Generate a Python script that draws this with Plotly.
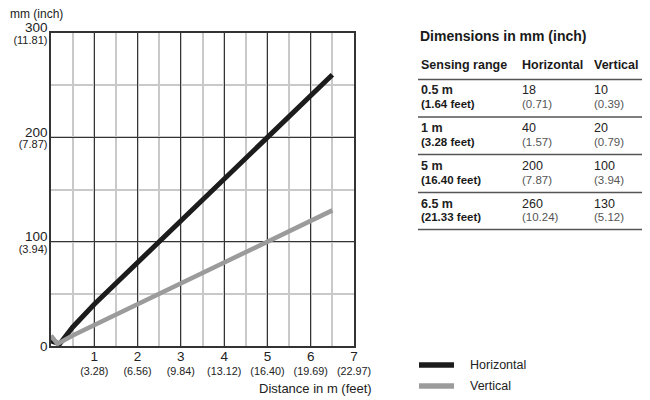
import plotly.graph_objects as go

# ---- data ----
dist_h_m = [0, 0.2, 0.5, 1, 5, 6.5]
horizontal_mm = [5, 2, 18, 40, 200, 260]
dist_v_m = [0, 0.15, 0.5, 1, 5, 6.5]
vertical_mm = [10, 2, 10, 20, 100, 130]

x_tick_vals = [1, 2, 3, 4, 5, 6, 7]
x_tick_feet = ["(3.28)", "(6.56)", "(9.84)", "(13.12)", "(16.40)", "(19.69)", "(22.97)"]
y_tick_vals = [0, 100, 200, 300]
y_tick_inch = ["", "(3.94)", "(7.87)", "(11.81)"]

table_title = "Dimensions in mm (inch)"
table_headers = ["Sensing range", "Horizontal", "Vertical"]
table_range = ["0.5 m", "1 m", "5 m", "6.5 m"]
table_range_feet = ["(1.64 feet)", "(3.28 feet)", "(16.40 feet)", "(21.33 feet)"]
table_h = ["18", "40", "200", "260"]
table_h_inch = ["(0.71)", "(1.57)", "(7.87)", "(10.24)"]
table_v = ["10", "20", "100", "130"]
table_v_inch = ["(0.39)", "(0.79)", "(3.94)", "(5.12)"]

series_names = ["Horizontal", "Vertical"]
series_colors = ["#1c1c1c", "#9b9b9b"]

# ---- layout geometry (page pixels; the page body adds an 8px offset) ----
OFF = 8
PAGE_W, PAGE_H = 650, 400
WIDTH, HEIGHT = PAGE_W - OFF, PAGE_H - OFF
PLOT_X0, PLOT_X1 = 51, 354      # page px of x=0 and x=7
PLOT_Y0, PLOT_Y1 = 33, 346      # page px of y=300 and y=0
L = PLOT_X0 - OFF
T = PLOT_Y0 - OFF
R = PAGE_W - PLOT_X1
B = PAGE_H - PLOT_Y1
PW = PLOT_X1 - PLOT_X0
PH = PLOT_Y1 - PLOT_Y0


def px(x):
    return (x - PLOT_X0) / PW


def py(y):
    return (PLOT_Y1 - y) / PH


FONT = "Liberation Sans, Arial, sans-serif"
TXT = "#222222"

fig = go.Figure()
fig.add_trace(go.Scatter(x=dist_h_m, y=horizontal_mm, mode="lines", name=series_names[0],
                         line=dict(color=series_colors[0], width=5), showlegend=False))
fig.add_trace(go.Scatter(x=dist_v_m, y=vertical_mm, mode="lines", name=series_names[1],
                         line=dict(color=series_colors[1], width=4.5), showlegend=False))

x_ticktext = [f"<span style='font-size:13.5px'>{v}</span><br>{f}" for v, f in zip(x_tick_vals, x_tick_feet)]
y_ticktext = [f"<span style='font-size:13.5px'>{v}</span>" +
              (f"<br><span style='font-size:11px'>{i}</span>" if i else "")
              for v, i in zip(y_tick_vals, y_tick_inch)]

annotations = []
shapes = []

# axis titles
annotations.append(dict(text="mm (inch)", x=px(8), y=py(14.5), xref="paper", yref="paper",
                        xanchor="left", yanchor="middle", showarrow=False,
                        font=dict(size=12, color=TXT)))
annotations.append(dict(text="Distance in m (feet)", x=px(374), y=py(388), xref="paper", yref="paper",
                        xanchor="right", yanchor="middle", showarrow=False,
                        font=dict(size=13, color=TXT)))

# table
col_x = [419, 520, 592]
annotations.append(dict(text=f"<b>{table_title}</b>", x=px(418), y=py(35.5), xref="paper", yref="paper",
                        xanchor="left", yanchor="middle", showarrow=False,
                        font=dict(size=14, color="#1a1a1a")))
for cx, h in zip(col_x, table_headers):
    annotations.append(dict(text=f"<b>{h}</b>", x=px(cx), y=py(65), xref="paper", yref="paper",
                            xanchor="left", yanchor="middle", showarrow=False,
                            font=dict(size=12.5, color="#1a1a1a")))
line_ys = [79.5, 117, 154.5, 192.5, 229.5]
for ly in line_ys:
    shapes.append(dict(type="line", xref="paper", yref="paper", x0=px(418), x1=px(650),
                       y0=py(ly), y1=py(ly), line=dict(color="#555555", width=1.5)))
row_main_y = [90.3, 128, 166.3, 204]
row_sub_y = [103.7, 141.5, 179.5, 217.3]
for i in range(4):
    cells = [
        (f"<b>{table_range[i]}</b>", f"<b>{table_range_feet[i]}</b>", "#1a1a1a"),
        (table_h[i], table_h_inch[i], "#555555"),
        (table_v[i], table_v_inch[i], "#555555"),
    ]
    for cx, (main, sub, subcol) in zip(col_x, cells):
        annotations.append(dict(text=main, x=px(cx), y=py(row_main_y[i]), xref="paper", yref="paper",
                                xanchor="left", yanchor="middle", showarrow=False,
                                font=dict(size=12.5, color=TXT)))
        annotations.append(dict(text=sub, x=px(cx), y=py(row_sub_y[i]), xref="paper", yref="paper",
                                xanchor="left", yanchor="middle", showarrow=False,
                                font=dict(size=11.5, color=subcol)))

# legend
legend_y = [365, 386]
for name, col, ly in zip(series_names, series_colors, legend_y):
    shapes.append(dict(type="line", xref="paper", yref="paper", x0=px(419), x1=px(454),
                       y0=py(ly), y1=py(ly), line=dict(color=col, width=5.5)))
    annotations.append(dict(text=name, x=px(468), y=py(ly), xref="paper", yref="paper",
                            xanchor="left", yanchor="middle", showarrow=False,
                            font=dict(size=12.5, color=TXT)))

fig.update_layout(
    width=WIDTH, height=HEIGHT,
    margin=dict(l=L, r=R, t=T, b=B, autoexpand=False),
    paper_bgcolor="white", plot_bgcolor="white",
    font=dict(family=FONT, color=TXT),
    annotations=annotations, shapes=shapes,
    xaxis=dict(range=[0, 7], tickmode="array", tickvals=x_tick_vals, ticktext=x_ticktext,
               tickfont=dict(size=10.8, color=TXT), ticks="",
               showgrid=True, gridcolor="#333333", gridwidth=1,
               minor=dict(dtick=0.5, tick0=0, showgrid=True, gridcolor="#c9c9c9", gridwidth=1.5),
               showline=True, linecolor="#333333", linewidth=1.5, mirror=True, zeroline=False,
               fixedrange=True),
    yaxis=dict(range=[0, 300], tickmode="array", tickvals=y_tick_vals, ticktext=y_ticktext,
               tickfont=dict(size=9, color=TXT), ticks="", ticklabelshift=2,
               showgrid=True, gridcolor="#333333", gridwidth=1,
               minor=dict(dtick=50, tick0=0, showgrid=True, gridcolor="#c9c9c9", gridwidth=1.5),
               showline=True, linecolor="#333333", linewidth=1.5, mirror=True, zeroline=False,
               fixedrange=True),
)

fig.write_html("out.html")
